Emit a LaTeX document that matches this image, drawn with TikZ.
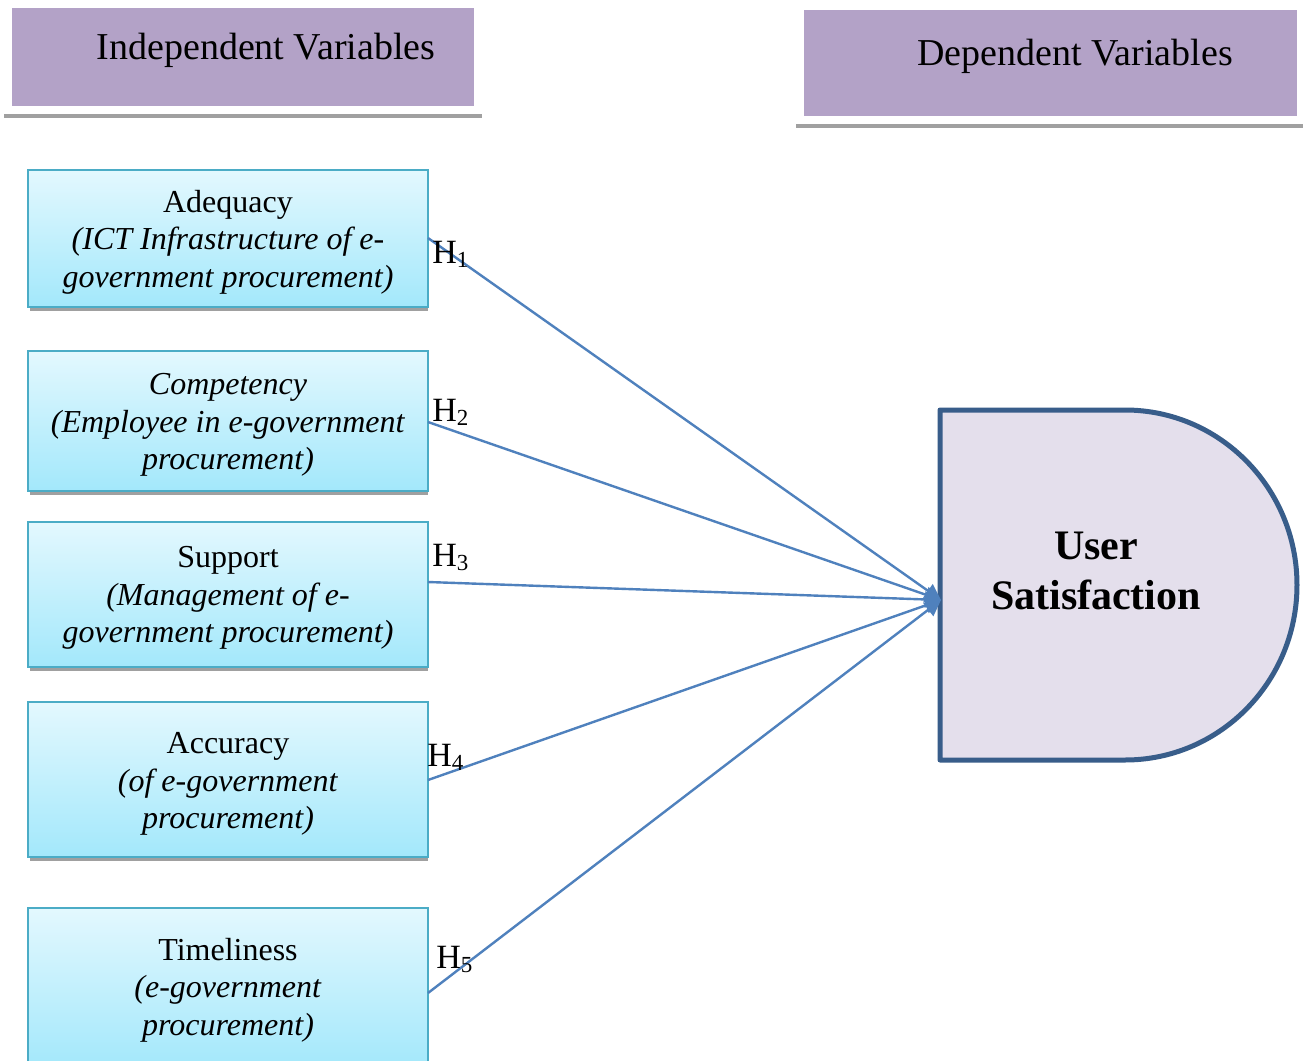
\documentclass[tikz,border=0pt]{standalone}
\usepackage{fontspec}
\setmainfont{Liberation Serif}
\usetikzlibrary{arrows.meta}
\definecolor{hdrfill}{HTML}{B3A2C7}
\definecolor{shgrey}{HTML}{A0A0A0}
\definecolor{boxedge}{HTML}{4BACC6}
\definecolor{boxtop}{HTML}{E3F8FE}
\definecolor{boxbot}{HTML}{A3E8FB}
\definecolor{arrowc}{HTML}{4F81BD}
\definecolor{usfill}{HTML}{E4DFEC}
\definecolor{usedge}{HTML}{385D8A}
\tikzset{
  hdrbox/.style={fill=hdrfill, draw=none, inner sep=0pt},
  hdrtext/.style={inner sep=0pt, font=\fontsize{19}{23}\selectfont},
  varbox/.style={draw=boxedge, line width=0.8pt, top color=boxtop, bottom color=boxbot,
    minimum width=200pt, inner sep=0pt},
  vartext/.style={inner sep=0pt, align=center, font=\fontsize{16}{18.75}\selectfont},
  shadowline/.style={draw=shgrey, line width=1.5pt},
  hyp/.style={-{Triangle[length=8pt,width=8pt]}, draw=arrowc, line width=1.2pt},
  hlab/.style={inner sep=0pt, anchor=base west, font=\fontsize{17}{18}\selectfont},
}
\newcommand{\hsub}[1]{H\raisebox{-0.3ex}{\fontsize{11.5}{11.5}\selectfont #1}}
\begin{document}
\begin{tikzpicture}[x=0.5pt,y=-0.5pt]
\useasboundingbox[fill=white] (0,0) rectangle (1303,1061);
% headers
\draw[shadowline, line width=2pt] (4,116) -- (482,116);
\node[hdrbox, minimum width=231pt, minimum height=49pt] (ivbox) at (243,57) {};
\node[hdrtext] (ivtext) at (266,50) {Independent Variables};
\draw[shadowline, line width=2pt] (796,126) -- (1303,126);
\node[hdrbox, minimum width=246.5pt, minimum height=53pt] (dvbox) at (1050.5,63) {};
\node[hdrtext] (dvtext) at (1075,56) {Dependent Variables};
% variable boxes
\draw[shadowline] (30,309) -- (428,309);
\node[varbox, minimum height=68.5pt] (b1) at (228,238.5) {};
\node[vartext] (t1) at (228,242) {Adequacy\\\textit{(ICT Infrastructure of e-}\\\textit{government procurement)}};
\draw[shadowline] (30,493) -- (428,493);
\node[varbox, minimum height=70pt] (b2) at (228,421) {};
\node[vartext] (t2) at (228,425) {\textit{Competency}\\\textit{(Employee in e-government}\\\textit{procurement)}};
\draw[shadowline] (30,669) -- (428,669);
\node[varbox, minimum height=72.5pt] (b3) at (228,594.5) {};
\node[vartext] (t3) at (228,598) {Support\\\textit{(Management of e-}\\\textit{government procurement)}};
\draw[shadowline] (30,859) -- (428,859);
\node[varbox, minimum height=77.5pt] (b4) at (228,779.5) {};
\node[vartext] (t4) at (228,784) {Accuracy\\\textit{(of e-government}\\\textit{procurement)}};
\node[varbox, minimum height=80pt] (b5) at (228,988) {};
\node[vartext] (t5) at (228,990) {Timeliness\\\textit{(e-government}\\\textit{procurement)}};
% user satisfaction shape
\draw[usedge, fill=usfill, line width=2.5pt, line join=round]
  (940,410) -- (1125,410) arc[start angle=90, end angle=-90, x radius=86pt, y radius=87.5pt]
  -- (940,760) -- cycle;
\node[inner sep=0pt, align=center, font=\fontsize{21}{25}\selectfont\bfseries] (us) at (1096,571) {User\\Satisfaction};
\coordinate (tip) at (941,600);
% connectors
\coordinate (s1) at (428,238);
\coordinate (s2) at (428,422);
\coordinate (s3) at (428,582);
\coordinate (s4) at (428,780);
\coordinate (s5) at (428,993);
\foreach \i in {1,...,5}{\draw[hyp] (s\i) -- (tip);}
% hypothesis labels
\node[hlab] (h1) at (432,263) {\hsub{1}};
\node[hlab] (h2) at (432,421) {\hsub{2}};
\node[hlab] (h3) at (432,566) {\hsub{3}};
\node[hlab] (h4) at (427,766) {\hsub{4}};
\node[hlab] (h5) at (436,968) {\hsub{5}};
\end{tikzpicture}
\end{document}
